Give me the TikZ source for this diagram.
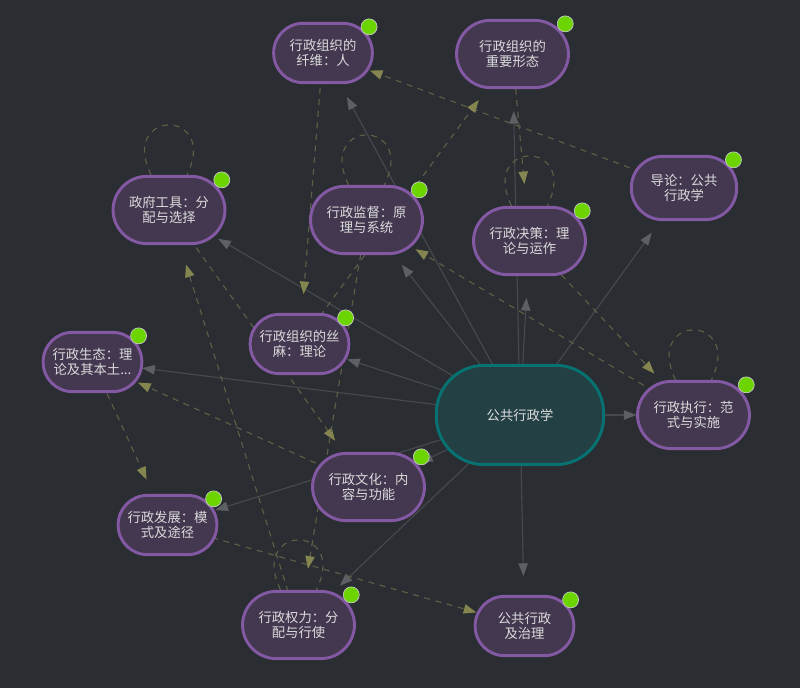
\documentclass[tikz,border=0pt]{standalone}
\usepackage{xcolor}
\usepackage{fontspec}
\setmainfont{Noto Sans CJK SC}
\usepackage{tikz}
\usetikzlibrary{arrows.meta,backgrounds}
\definecolor{slate}{HTML}{2A2D32}
\definecolor{plum}{HTML}{433850}
\definecolor{violet}{HTML}{8459A4}
\definecolor{pine}{HTML}{234045}
\definecolor{lagoon}{HTML}{077272}
\definecolor{ash}{HTML}{46494D}
\definecolor{ashtip}{HTML}{5C6064}
\definecolor{moss}{HTML}{5E5F47}
\definecolor{mosstip}{HTML}{85864F}
\definecolor{lime}{HTML}{6CD500}
\newcommand{\selfloop}[1]{\draw[dashline,shift={(#1.north)}] (-18,0) .. controls (-23,-11) and (-24.5,-18) .. (-24.5,-25) .. controls (-24.5,-39) and (-14,-50) .. (0,-50) .. controls (14,-50) and (24.5,-39) .. (24.5,-25) .. controls (24.5,-18) and (23,-11) .. (18,0);}

\begin{document}
\begin{tikzpicture}[x=0.75pt,y=-0.75pt,every node/.style={font=\fontsize{10}{11.8}\selectfont,align=center,text=white!86!black},
bignode/.style={draw=violet,fill=plum,line width=2.2pt,rounded corners=25.5pt,minimum width=84pt,minimum height=50.5pt,inner sep=0pt},
midnode/.style={draw=violet,fill=plum,line width=2.2pt,rounded corners=23.5pt,minimum width=79pt,minimum height=47.5pt,inner sep=0pt},
smallnode/.style={draw=violet,fill=plum,line width=2.2pt,rounded corners=22pt,minimum width=74pt,minimum height=44.5pt,inner sep=0pt},
badge/.style={circle,draw=white!80!black,fill=lime,line width=0.5pt,minimum size=12pt,inner sep=0pt},
solidedge/.style={ash,line width=0.85pt,-{Triangle[length=9.5pt,width=7pt,color=ashtip]}},
dashline/.style={moss,line width=0.85pt,dash pattern=on 4.5pt off 4.2pt},
dashedge/.style={dashline,-{Triangle[length=9.5pt,width=7pt,color=mosstip]}},
tobig/.style={shorten >=42.75pt},
tomid/.style={shorten >=41.25pt},
tosmall/.style={shorten >=37.5pt}]
\useasboundingbox (0,0) rectangle (800,688);
\node[draw=lagoon,fill=pine,line width=2.2pt,rounded corners=36pt,minimum width=125.5pt,minimum height=74.5pt,inner sep=0pt] (root) at (520,415) {公共行政学};
\node[smallnode] (fiber) at (323,53) {行政组织的\\纤维：人};
\node[bignode] (form) at (512.5,54) {行政组织的\\重要形态};
\node[bignode] (tools) at (169,210) {政府工具：分\\配与选择};
\node[bignode] (audit) at (366.5,220) {行政监督：原\\理与系统};
\node[bignode] (decide) at (529.5,241) {行政决策：理\\论与运作};
\node[midnode] (intro) at (684,188) {导论：公共\\行政学};
\node[smallnode] (silk) at (299.5,344) {行政组织的丝\\麻：理论};
\node[smallnode] (ecology) at (92.5,362) {行政生态：理\\论及其本土...};
\node[bignode] (culture) at (368.5,487) {行政文化：内\\容与功能};
\node[bignode] (execute) at (693.5,415) {行政执行：范\\式与实施};
\node[smallnode] (develop) at (167.5,525) {行政发展：模\\式及途径};
\node[bignode] (power) at (298.5,625) {行政权力：分\\配与行使};
\node[smallnode] (govern) at (524.5,626) {公共行政\\及治理};
\foreach \n in {fiber,form,tools,audit,decide,intro,silk,ecology,culture,execute,develop,power,govern}
  \node[badge] (dot\n) at ([shift={(-4.7,5)}]\n.north east) {};
\begin{scope}[on background layer]
\fill[slate] (0,0) rectangle (800,688);
% from the root
\draw[solidedge,tosmall] (root.center)--(fiber.center);
\draw[solidedge,tobig] (root.center)--(form.center);
\draw[solidedge,tobig] (root.center)--(tools.center);
\draw[solidedge,tobig] (root.center)--(audit.center);
\draw[solidedge,tobig] (root.center)--(decide.center);
\draw[solidedge,tomid] (root.center)--(intro.center);
\draw[solidedge,tosmall] (root.center)--(silk.center);
\draw[solidedge,tosmall] (root.center)--(ecology.center);
\draw[solidedge,tobig] (root.center)--(culture.center);
\draw[solidedge,tobig] (root.center)--(execute.center);
\draw[solidedge,tosmall] (root.center)--(develop.center);
\draw[solidedge,tobig] (root.center)--(power.center);
\draw[solidedge,tosmall] (root.center)--(govern.center);
% between chapters
\draw[dashedge,tosmall] (fiber.center)--(silk.center);
\draw[dashedge,tosmall] (intro.center)--(fiber.center);
\draw[dashedge,tobig] (form.center)--(decide.center);
\draw[dashedge,tobig] (silk.center)--(form.center);
\draw[dashedge,tobig] (decide.center)--(execute.center);
\draw[dashedge,tobig] (execute.center)--(audit.center);
\draw[dashedge,tobig] (tools.center)--(culture.center);
\draw[dashedge,tobig] (audit.center)--(power.center);
\draw[dashedge,tobig] (power.center)--(tools.center);
\draw[dashedge,tosmall] (culture.center)--(ecology.center);
\draw[dashedge,tosmall] (ecology.center)--(develop.center);
\draw[dashedge,tosmall] (develop.center)--(govern.center);
\selfloop{tools}
\selfloop{audit}
\selfloop{decide}
\selfloop{execute}
\selfloop{power}
\end{scope}
\end{tikzpicture}
\end{document}
